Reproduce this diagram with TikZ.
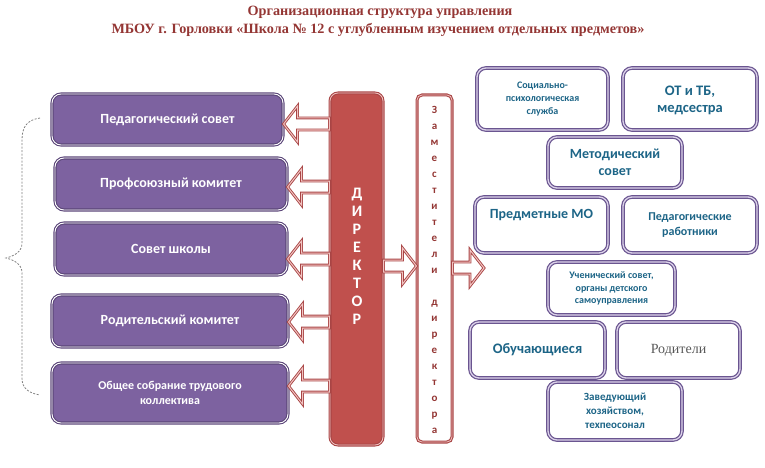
\documentclass[tikz,border=0pt]{standalone}
\usepackage{fontspec}
\setmainfont{Liberation Serif}
\setsansfont{Carlito}
\usetikzlibrary{calc}

\definecolor{titlered}{HTML}{943634}
\definecolor{boxviolet}{HTML}{7D62A0}
\definecolor{boxedge}{HTML}{5A4578}
\definecolor{rboxedge}{HTML}{6A5590}
\definecolor{rboxline}{HTML}{DCD2EA}
\definecolor{rtext}{HTML}{1D6587}
\definecolor{dirfill}{HTML}{C0504D}
\definecolor{arrred}{HTML}{A84545}
\definecolor{arrpink}{HTML}{F2C4C2}

\tikzset{
  leftbox/.style={draw=boxedge, double=white, double distance=0.9pt, line width=1.1pt,
    fill=boxviolet, rounded corners=9pt, text=white, align=center,
    font=\sffamily\bfseries\fontsize{14}{16}\selectfont},
  rightbox/.style={draw=rboxedge, double=rboxline, double distance=1.3pt, line width=1.2pt,
    fill=white, rounded corners=9pt, text=rtext, align=center, font=\sffamily\bfseries},
  blockarr/.style={draw=arrred, double=arrpink, double distance=1pt, line width=0.9pt,
    fill=white, to path={let \p1=(\tikztostart), \p2=(\tikztotarget), \n1={sign(\x2-\x1)} in
      (\x1,\y2-6pt) -- (\x2-\n1*14pt,\y2-6pt) -- (\x2-\n1*14pt,\y2-18pt) -- (\x2,\y2)
      -- (\x2-\n1*14pt,\y2+18pt) -- (\x2-\n1*14pt,\y2+6pt) -- (\x1,\y2+6pt) -- cycle}},
}

\begin{document}
\begin{tikzpicture}[x=1pt,y=-1pt]
\useasboundingbox (0,0) rectangle (765,468);

\node[text=titlered, font=\bfseries\fontsize{14.2}{16}\selectfont] (title1) at (380,12) {Организационная структура управления};
\node[text=titlered, font=\bfseries\fontsize{14.2}{16}\selectfont] (title2) at (378,30) {МБОУ г. Горловки «Школа № 12 с углубленным изучением отдельных предметов»};

\node[leftbox, minimum width=231pt, minimum height=51pt] (pedsov) at (167.5,119.5) {Педагогический совет};
\node[leftbox, minimum width=232pt, minimum height=52pt] (profkom) at (171,184) {Профсоюзный комитет};
\node[leftbox, minimum width=232pt, minimum height=52pt] (sovsh) at (171,249) {Совет школы};
\node[leftbox, minimum width=236pt, minimum height=52pt] (rodkom) at (170,321) {Родительский комитет};
\node[leftbox, minimum width=236pt, minimum height=60pt, font=\sffamily\bfseries\fontsize{12}{15}\selectfont] (obsh) at (170,393) {Общее собрание трудового\\коллектива};

\draw[gray, line width=0.8pt, dash pattern=on 2pt off 1.5pt] (40,118) .. controls (26,120) and (22,128) .. (22,140) -- (22,243) .. controls (22,252) and (14,256) .. (6,258) .. controls (14,260) and (22,264) .. (22,273) -- (22,378) .. controls (22,388) and (28,393) .. (40,395);

\node[draw=arrred, double=arrpink, double distance=0.8pt, line width=1.1pt, fill=dirfill, rounded corners=8pt, minimum width=53pt, minimum height=352pt] (dir) at (356.5,269) {};
\node[text=white, align=center, font=\sffamily\bfseries\fontsize{16}{18}\selectfont] (dirlbl) at (357,256) {Д\\И\\Р\\Е\\К\\Т\\О\\Р};

\node[draw=arrred, double=arrpink, double distance=0.8pt, line width=1.1pt, fill=white, rounded corners=5pt, minimum width=35pt, minimum height=347pt] (dep) at (434.5,268.5) {};
\node[text=titlered, align=center, font=\sffamily\bfseries\fontsize{11}{16}\selectfont] (deplbl) at (434.5,270) {З\\а\\м\\е\\с\\т\\и\\т\\е\\л\\и\\[16pt]д\\и\\р\\е\\к\\т\\о\\р\\а};

\draw[blockarr] (dir.west) to ([yshift=-4.5pt]pedsov.east);
\draw[blockarr] (dir.west) to ([yshift=-3pt]profkom.east);
\draw[blockarr] (dir.west) to ([yshift=-10pt]sovsh.east);
\draw[blockarr] (dir.west) to ([yshift=-1pt]rodkom.east);
\draw[blockarr] (dir.west) to ([yshift=7pt]obsh.east);
\draw[blockarr] (dir.east) to ([yshift=2.5pt]dep.west);
\coordinate (rtip) at (484,268);
\draw[blockarr] (dep.east) to (rtip);

\node[rightbox, minimum width=131pt, minimum height=62pt, font=\sffamily\bfseries\fontsize{10}{13}\selectfont] (socps) at (542.5,99) {Социально-\\психологическая\\служба};
\node[rightbox, minimum width=134pt, minimum height=62pt, font=\sffamily\bfseries\fontsize{14.5}{16}\selectfont] (ottb) at (690,99) {};
\node[text=rtext, align=center, font=\sffamily\bfseries\fontsize{14.5}{17}\selectfont] (ottblbl) at (690,100) {ОТ и ТБ,\\медсестра};
\node[rightbox, minimum width=134pt, minimum height=51pt, font=\sffamily\bfseries\fontsize{14}{17}\selectfont] (metsov) at (615,162.5) {Методический\\совет};
\node[rightbox, minimum width=133pt, minimum height=56pt] (predmo) at (541.5,225) {};
\node[text=rtext, font=\sffamily\bfseries\fontsize{14}{16}\selectfont] (predmolbl) at (541.5,215) {Предметные МО};
\node[rightbox, minimum width=134pt, minimum height=56pt, font=\sffamily\bfseries\fontsize{12}{15}\selectfont] (pedrab) at (690,225) {Педагогические\\работники};
\node[rightbox, minimum width=127pt, minimum height=53pt, font=\sffamily\bfseries\fontsize{10}{12.5}\selectfont] (uchsov) at (611.5,288.5) {Ученический совет,\\органы детского\\самоуправления};
\node[rightbox, minimum width=135pt, minimum height=56pt, font=\sffamily\bfseries\fontsize{14.5}{17}\selectfont] (obuch) at (537.5,350) {Обучающиеся};
\node[rightbox, minimum width=123pt, minimum height=56pt, text=black!65, font=\fontsize{14}{17}\selectfont] (roditeli) at (678.5,350) {Родители};
\node[rightbox, minimum width=134pt, minimum height=58pt, font=\sffamily\bfseries\fontsize{11}{14}\selectfont] (zavhoz) at (615,411) {Заведующий\\хозяйством,\\техпеосонал};
\end{tikzpicture}
\end{document}
